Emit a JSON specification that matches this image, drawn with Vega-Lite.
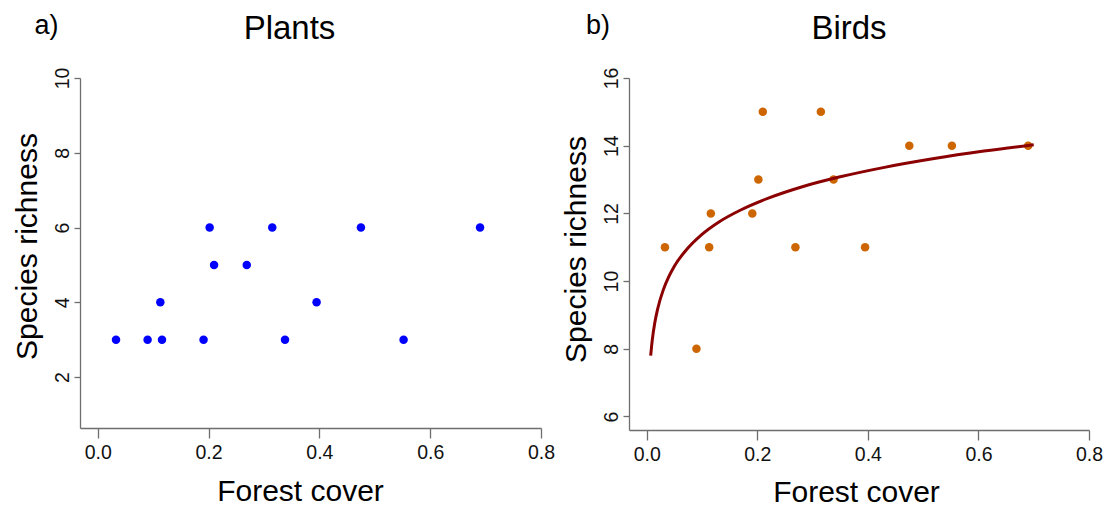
{
  "$schema": "https://vega.github.io/schema/vega-lite/v6.json",
  "padding": {"left": 12, "top": 12, "right": 2, "bottom": 2},
  "background": "white",
  "datasets": {
    "sites": [
      {"forest": 0.033, "plants": 3, "birds": 11},
      {"forest": 0.090, "plants": 3, "birds": 8},
      {"forest": 0.113, "plants": 4, "birds": 11},
      {"forest": 0.116, "plants": 3, "birds": 12},
      {"forest": 0.191, "plants": 3, "birds": 12},
      {"forest": 0.202, "plants": 6, "birds": 13},
      {"forest": 0.210, "plants": 5, "birds": 15},
      {"forest": 0.269, "plants": 5, "birds": 11},
      {"forest": 0.315, "plants": 6, "birds": 15},
      {"forest": 0.338, "plants": 3, "birds": 13},
      {"forest": 0.395, "plants": 4, "birds": 11},
      {"forest": 0.475, "plants": 6, "birds": 14},
      {"forest": 0.552, "plants": 3, "birds": 14},
      {"forest": 0.690, "plants": 6, "birds": 14}
    ],
    "fit": [
      {"forest": 0.0072, "birds": 7.80},
      {"forest": 0.010, "birds": 8.25},
      {"forest": 0.015, "birds": 8.80},
      {"forest": 0.020, "birds": 9.19},
      {"forest": 0.030, "birds": 9.74},
      {"forest": 0.040, "birds": 10.13},
      {"forest": 0.050, "birds": 10.44},
      {"forest": 0.070, "birds": 10.89},
      {"forest": 0.100, "birds": 11.38},
      {"forest": 0.130, "birds": 11.74},
      {"forest": 0.170, "birds": 12.10},
      {"forest": 0.220, "birds": 12.45},
      {"forest": 0.280, "birds": 12.78},
      {"forest": 0.350, "birds": 13.08},
      {"forest": 0.430, "birds": 13.36},
      {"forest": 0.520, "birds": 13.62},
      {"forest": 0.610, "birds": 13.84},
      {"forest": 0.700, "birds": 14.03}
    ]
  },
  "config": {
    "font": "Liberation Sans",
    "view": {"stroke": null},
    "concat": {"spacing": 6},
    "axis": {
      "grid": false,
      "labelFlush": false,
      "domainColor": "#6e6e6e",
      "tickColor": "#6e6e6e",
      "domainWidth": 1.3,
      "tickWidth": 1.3,
      "labelColor": "#111111",
      "titleColor": "#000000",
      "labelFont": "Liberation Sans",
      "titleFont": "Liberation Sans",
      "labelFontSize": 19.5,
      "titleFontSize": 30,
      "titleFontWeight": "normal"
    },
    "axisX": {"tickSize": 10, "labelPadding": 5, "titleBaseline": "alphabetic"},
    "axisY": {"tickSize": 6, "labelAngle": -90, "labelAlign": "center", "labelBaseline": "alphabetic", "labelPadding": 6, "titleBaseline": "alphabetic", "titleAngle": -90},
    "title": {"fontSize": 33, "fontWeight": "normal", "font": "Liberation Sans", "color": "#000000"}
  },
  "hconcat": [
    {
      "title": {"text": "a)", "anchor": "start", "fontSize": 27, "dx": 22, "dy": 31},
      "hconcat": [
        {
          "width": 461,
          "height": 350,
          "title": {"text": "Plants", "dx": -21, "frame": "group", "offset": 21},
          "data": {"name": "sites"},
          "mark": {"type": "circle", "size": 72, "opacity": 1, "color": "#0000FF"},
          "encoding": {
            "x": {
              "field": "forest", "type": "quantitative",
              "scale": {"domain": [-0.032, 0.8], "nice": false, "zero": false},
              "axis": {"title": "Forest cover", "values": [0, 0.2, 0.4, 0.6, 0.8], "format": ".1f", "titleX": 220, "titleY": 72}
            },
            "y": {
              "field": "plants", "type": "quantitative",
              "scale": {"domain": [0.64, 10], "nice": false, "zero": false},
              "axis": {"title": "Species richness", "values": [2, 4, 6, 8, 10], "titleX": -43.5, "titleY": 168}
            }
          }
        }
      ]
    },
    {
      "title": {"text": "b)", "anchor": "start", "fontSize": 27, "dx": 25, "dy": 31},
      "hconcat": [
        {
          "width": 460,
          "height": 352,
          "title": {"text": "Birds", "dx": -10, "frame": "group", "offset": 21},
          "layer": [
            {
              "data": {"name": "sites"},
              "mark": {"type": "circle", "size": 72, "opacity": 1, "color": "#CD6600"},
              "encoding": {
                "x": {
                  "field": "forest", "type": "quantitative",
                  "scale": {"domain": [-0.032, 0.8], "nice": false, "zero": false},
                  "axis": {"title": "Forest cover", "values": [0, 0.2, 0.4, 0.6, 0.8], "format": ".1f", "titleX": 227, "titleY": 71}
                },
                "y": {
                  "field": "birds", "type": "quantitative",
                  "scale": {"domain": [5.6, 16], "nice": false, "zero": false},
                  "axis": {"title": "Species richness", "values": [6, 8, 10, 12, 14, 16], "titleX": -44, "titleY": 171}
                }
              }
            },
            {
              "data": {"name": "fit"},
              "mark": {"type": "line", "color": "#8B0000", "strokeWidth": 3, "interpolate": "monotone"},
              "encoding": {
                "x": {"field": "forest", "type": "quantitative"},
                "y": {"field": "birds", "type": "quantitative"}
              }
            }
          ]
        }
      ]
    }
  ]
}
